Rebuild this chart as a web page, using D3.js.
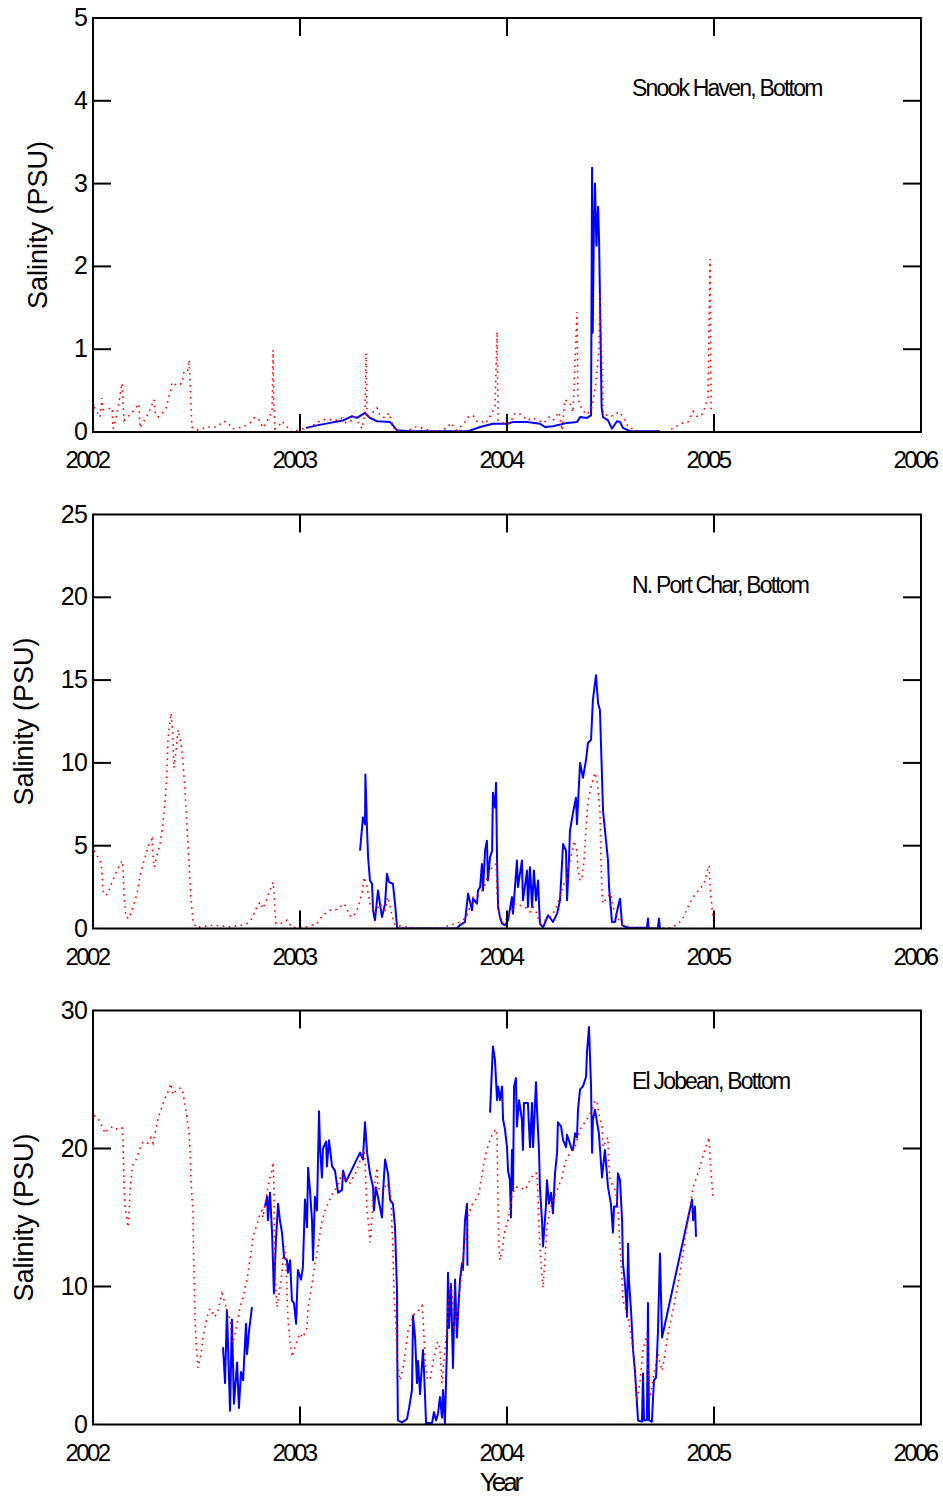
<!DOCTYPE html>
<html>
<head>
<meta charset="utf-8">
<script src="https://cdn.jsdelivr.net/npm/d3@7"></script>
<style>
  html, body { margin: 0; padding: 0; background: #fff; }
  svg { display: block; font-family: "Liberation Sans", Arial, sans-serif; }
</style>
</head>
<body>
<svg id="chart" width="943" height="1496"></svg>
<script>
// ---------------- DATA ----------------
const yearTicks = [2002, 2003, 2004, 2005, 2006];
const panelTitles = ["Snook Haven, Bottom", "N. Port Char, Bottom", "El Jobean, Bottom"];
const snookTicks = [0, 1, 2, 3, 4, 5];
const charTicks = [0, 5, 10, 15, 20, 25];
const jobeanTicks = [0, 10, 20, 30];

// observed (blue solid) and model (red dotted); [decimal year, salinity PSU]; null = gap
const snookObserved = [[2003.029,0.05],[2003.082,0.08],[2003.145,0.11],[2003.208,0.14],[2003.251,0.19],[2003.275,0.17],[2003.314,0.23],[2003.338,0.17],[2003.372,0.13],[2003.435,0.12],[2003.449,0.08],[2003.469,0.02],[2003.531,0.01],[2003.812,0.01],[2003.870,0.06],[2003.932,0.10],[2004.000,0.10],[2004.029,0.12],[2004.097,0.12],[2004.159,0.10],[2004.184,0.06],[2004.222,0.07],[2004.290,0.11],[2004.338,0.12],[2004.353,0.18],[2004.386,0.17],[2004.406,0.20],[2004.411,3.19],[2004.414,1.2],[2004.420,2.5],[2004.425,3.0],[2004.432,2.25],[2004.440,2.72],[2004.445,2.3],[2004.457,0.30],[2004.464,0.18],[2004.488,0.14],[2004.507,0.04],[2004.531,0.13],[2004.546,0.12],[2004.560,0.05],[2004.594,0.01],[2004.739,0.01]];

const snookModel = [[2002.005,0.30],[2002.034,0.18],[2002.043,0.41],[2002.048,0.27],[2002.072,0.28],[2002.092,0.29],[2002.097,0.04],[2002.116,0.22],[2002.140,0.59],[2002.150,0.14],[2002.174,0.20],[2002.193,0.25],[2002.222,0.34],[2002.227,0.05],[2002.242,0.12],[2002.256,0.17],[2002.280,0.30],[2002.295,0.39],[2002.300,0.24],[2002.314,0.18],[2002.333,0.22],[2002.353,0.29],[2002.372,0.48],[2002.382,0.60],[2002.406,0.56],[2002.430,0.59],[2002.440,0.74],[2002.459,0.75],[2002.464,0.87],[2002.469,0.59],[2002.473,0.35],[2002.478,0.06],[2002.502,0.02],[2002.551,0.06],[2002.599,0.06],[2002.628,0.13],[2002.647,0.12],[2002.676,0.04],[2002.725,0.06],[2002.758,0.11],[2002.778,0.17],[2002.797,0.17],[2002.821,0.05],[2002.841,0.13],[2002.855,0.20],[2002.865,0.27],[2002.870,0.99],[2002.874,0.27],[2002.879,0.04],[2002.899,0.08],[2002.913,0.13],[2002.942,0.05],[2002.961,0.0],[2002.990,0.02],[2003.039,0.05],[2003.063,0.08],[2003.106,0.15],[2003.135,0.15],[2003.155,0.15],[2003.179,0.14],[2003.203,0.17],[2003.222,0.11],[2003.251,0.14],[2003.266,0.18],[2003.300,0.04],[2003.314,0.24],[2003.319,0.95],[2003.324,0.17],[2003.353,0.24],[2003.372,0.29],[2003.386,0.20],[2003.411,0.17],[2003.430,0.23],[2003.440,0.14],[2003.459,0.02],[2003.507,0.0],[2003.556,0.06],[2003.575,0.06],[2003.599,0.04],[2003.638,0.01],[2003.667,0.01],[2003.710,0.05],[2003.729,0.11],[2003.758,0.02],[2003.797,0.12],[2003.812,0.18],[2003.836,0.20],[2003.855,0.13],[2003.879,0.13],[2003.889,0.10],[2003.908,0.14],[2003.928,0.24],[2003.942,0.30],[2003.952,1.21],[2003.957,0.14],[2003.976,0.11],[2004.014,0.10],[2004.039,0.23],[2004.072,0.21],[2004.097,0.14],[2004.126,0.17],[2004.150,0.14],[2004.179,0.11],[2004.203,0.18],[2004.222,0.14],[2004.251,0.24],[2004.266,0.02],[2004.280,0.39],[2004.304,0.35],[2004.319,0.24],[2004.338,1.45],[2004.343,0.40],[2004.362,0.27],[2004.386,0.21],[2004.411,0.30],[2004.430,0.60],[2004.444,1.0],[2004.449,1.68],[2004.459,0.8],[2004.464,0.23],[2004.498,0.18],[2004.522,0.22],[2004.546,0.24],[2004.570,0.14],[2004.585,0.06],[2004.643,0.0],[2004.676,0.0],[2004.778,0.0],[2004.802,0.05],[2004.826,0.08],[2004.850,0.11],[2004.874,0.12],[2004.899,0.25],[2004.918,0.19],[2004.937,0.19],[2004.957,0.30],[2004.971,0.42],[2004.981,2.09],[2004.986,0.23]];

const charObserved = [[2003.290,4.7],[2003.304,6.7],[2003.314,6.3],[2003.316,9.3],[2003.324,5.9],[2003.329,4.3],[2003.338,2.9],[2003.348,2.7],[2003.353,1.1],[2003.362,0.5],[2003.377,2.3],[2003.386,1.5],[2003.396,0.7],[2003.411,1.5],[2003.420,3.3],[2003.430,2.8],[2003.449,2.7],[2003.459,1.5],[2003.469,0.06],[2003.473,0.0],[2003.758,0.0],[2003.773,0.2],[2003.797,0.4],[2003.812,2.1],[2003.831,1.1],[2003.836,1.8],[2003.855,1.5],[2003.860,2.3],[2003.870,2.5],[2003.879,3.9],[2003.884,2.3],[2003.894,4.7],[2003.903,5.3],[2003.908,2.9],[2003.918,4.3],[2003.928,4.7],[2003.932,8.2],[2003.942,7.3],[2003.947,8.8],[2003.952,4.1],[2003.957,1.3],[2003.966,0.7],[2003.976,0.3],[2003.990,0.2],[2004.005,0.5],[2004.024,1.9],[2004.029,0.9],[2004.048,4.1],[2004.053,2.5],[2004.072,4.1],[2004.077,1.7],[2004.097,3.5],[2004.101,1.3],[2004.111,3.7],[2004.121,1.3],[2004.130,3.5],[2004.140,1.7],[2004.150,2.9],[2004.159,0.3],[2004.174,0.06],[2004.198,0.8],[2004.222,0.4],[2004.242,0.9],[2004.256,1.7],[2004.271,5.1],[2004.285,4.7],[2004.290,1.7],[2004.300,4.3],[2004.304,5.9],[2004.319,7.0],[2004.333,7.9],[2004.338,6.3],[2004.353,10.0],[2004.367,9.1],[2004.382,10.2],[2004.391,11.2],[2004.406,11.4],[2004.415,13.8],[2004.430,15.3],[2004.440,13.6],[2004.449,13.2],[2004.464,7.1],[2004.488,4.1],[2004.493,2.5],[2004.507,0.4],[2004.522,0.4],[2004.536,1.3],[2004.546,1.8],[2004.556,0.2],[2004.580,0.05],[2004.676,0.05],[2004.681,0.6],[2004.684,0.0],[2004.729,0.0],[2004.734,0.6],[2004.739,0.0]];

const charModel = [[2002.005,4.7],[2002.034,4.1],[2002.043,3.5],[2002.048,2.3],[2002.058,2.0],[2002.072,2.1],[2002.092,2.8],[2002.116,3.5],[2002.140,4.1],[2002.145,3.7],[2002.150,1.9],[2002.159,0.7],[2002.174,0.6],[2002.193,1.3],[2002.213,2.1],[2002.227,3.2],[2002.242,3.9],[2002.256,4.5],[2002.271,5.1],[2002.285,5.4],[2002.290,4.4],[2002.295,3.7],[2002.309,4.4],[2002.324,5.1],[2002.338,6.3],[2002.348,7.6],[2002.357,9.4],[2002.362,11.4],[2002.377,13.0],[2002.386,11.6],[2002.391,9.7],[2002.401,10.7],[2002.411,12.0],[2002.425,11.2],[2002.435,10.0],[2002.444,8.4],[2002.454,6.1],[2002.464,3.9],[2002.473,1.9],[2002.483,0.5],[2002.498,0.06],[2002.580,0.2],[2002.662,0.1],[2002.720,0.2],[2002.744,0.3],[2002.768,0.6],[2002.778,0.9],[2002.792,1.3],[2002.807,1.6],[2002.821,1.2],[2002.841,1.8],[2002.850,2.2],[2002.865,2.6],[2002.870,2.8],[2002.874,2.3],[2002.879,1.0],[2002.884,0.3],[2002.908,0.3],[2002.937,0.5],[2002.961,0.06],[2003.024,0.06],[2003.058,0.2],[2003.082,0.3],[2003.097,0.6],[2003.121,0.9],[2003.145,1.1],[2003.169,1.1],[2003.193,1.3],[2003.213,1.5],[2003.227,1.2],[2003.237,0.8],[2003.256,0.7],[2003.275,1.1],[2003.285,1.5],[2003.300,2.2],[2003.309,3.1],[2003.314,2.9],[2003.324,2.5],[2003.338,1.5],[2003.362,0.9],[2003.386,1.5],[2003.411,1.1],[2003.425,1.9],[2003.444,0.8],[2003.459,0.2],[2003.531,0.05],[2003.676,0.0],[2003.725,0.2],[2003.758,0.3],[2003.787,0.5],[2003.807,0.8],[2003.821,1.3],[2003.836,1.9],[2003.860,2.0],[2003.879,2.3],[2003.894,2.7],[2003.908,3.2],[2003.928,3.7],[2003.947,3.9],[2003.952,2.1],[2003.957,1.3],[2003.966,0.7],[2003.981,0.3],[2004.000,0.6],[2004.014,1.0],[2004.039,1.5],[2004.063,1.4],[2004.087,1.3],[2004.111,1.0],[2004.126,1.3],[2004.145,0.9],[2004.159,0.3],[2004.184,0.5],[2004.208,0.7],[2004.232,1.1],[2004.256,1.9],[2004.271,2.6],[2004.290,3.1],[2004.300,3.9],[2004.314,4.6],[2004.324,5.3],[2004.338,4.7],[2004.343,3.5],[2004.353,2.9],[2004.362,3.0],[2004.372,4.1],[2004.382,6.1],[2004.391,7.7],[2004.411,8.8],[2004.425,9.4],[2004.435,9.0],[2004.449,7.1],[2004.454,4.1],[2004.459,2.1],[2004.464,1.5],[2004.483,1.9],[2004.502,2.1],[2004.512,1.3],[2004.531,0.7],[2004.560,0.2],[2004.609,0.05],[2004.725,0.0],[2004.797,0.05],[2004.845,0.5],[2004.870,1.2],[2004.899,1.9],[2004.932,2.4],[2004.952,2.7],[2004.966,3.4],[2004.976,3.8],[2004.981,2.5],[2004.990,1.3],[2004.995,0.5]];

const jobeanObserved = [[2002.628,5.6],[2002.638,3.0],[2002.647,8.3],[2002.662,1.0],[2002.671,7.6],[2002.681,1.5],[2002.696,4.5],[2002.705,1.2],[2002.715,3.8],[2002.725,3.2],[2002.739,7.3],[2002.744,5.1],[2002.754,6.8],[2002.768,8.5],null,[2002.831,15.8],[2002.841,16.5],[2002.845,14.8],[2002.855,16.8],[2002.865,13.9],[2002.874,9.5],[2002.884,13.4],[2002.894,16.0],[2002.903,14.8],[2002.913,13.9],[2002.923,12.1],[2002.937,11.9],[2002.942,11.0],[2002.952,11.9],[2002.961,9.0],[2002.971,8.8],[2002.981,7.3],[2002.986,9.5],[2002.990,11.2],[2003.005,10.5],[2003.014,11.4],[2003.024,16.3],[2003.034,14.3],[2003.039,18.6],[2003.048,17.0],[2003.058,14.8],[2003.063,11.9],[2003.072,16.5],[2003.082,15.5],[2003.092,22.7],[2003.097,20.0],[2003.106,17.9],[2003.111,20.0],[2003.126,20.5],[2003.130,18.7],[2003.140,20.6],[2003.155,18.7],[2003.169,18.4],[2003.184,16.8],[2003.203,17.0],[2003.208,18.4],[2003.222,17.6],[2003.290,19.7],[2003.304,19.2],[2003.314,21.9],[2003.324,19.7],[2003.338,18.2],[2003.353,17.2],[2003.357,15.5],[2003.367,17.2],[2003.396,15.0],[2003.401,16.8],[2003.411,19.2],[2003.425,18.2],[2003.435,16.3],[2003.449,16.0],[2003.459,14.3],[2003.469,9.5],[2003.470,4.6],[2003.473,0.3],[2003.493,0.15],[2003.517,0.4],[2003.527,1.2],[2003.541,2.5],[2003.546,7.9],[2003.556,6.3],[2003.565,3.0],[2003.570,4.6],[2003.580,2.2],[2003.594,5.4],[2003.599,3.9],[2003.609,0.1],[2003.638,0.1],[2003.647,0.9],[2003.657,0.3],[2003.667,0.8],[2003.676,2.0],[2003.686,0.5],[2003.691,2.5],[2003.700,0.1],[2003.710,5.6],[2003.715,11.0],[2003.720,7.0],[2003.729,10.2],[2003.734,7.3],[2003.739,4.1],[2003.749,10.5],[2003.758,6.3],[2003.763,7.8],[2003.773,10.5],[2003.783,11.7],[2003.787,11.2],[2003.797,14.8],[2003.807,16.0],[2003.809,11.5],null,[2003.918,22.6],[2003.932,27.4],[2003.942,26.4],[2003.952,23.5],[2003.957,24.5],[2003.966,23.5],[2003.976,24.5],[2003.981,22.1],[2003.990,21.4],[2004.000,20.1],[2004.005,18.4],[2004.014,17.7],[2004.019,15.0],[2004.024,19.9],[2004.029,17.0],[2004.034,24.5],[2004.043,25.1],[2004.048,21.6],[2004.058,23.5],[2004.072,22.1],[2004.077,19.9],[2004.082,23.3],[2004.101,23.3],[2004.111,20.1],[2004.121,23.3],[2004.126,20.1],[2004.140,24.8],[2004.145,22.8],[2004.155,19.7],[2004.159,17.2],[2004.169,14.8],[2004.174,12.9],[2004.188,15.8],[2004.193,17.7],[2004.203,16.0],[2004.213,16.8],[2004.222,15.3],[2004.232,18.2],[2004.242,19.7],[2004.246,21.9],[2004.261,21.6],[2004.271,20.6],[2004.285,20.1],[2004.290,21.0],[2004.314,19.9],[2004.319,19.9],[2004.329,21.1],[2004.338,20.8],[2004.343,22.8],[2004.353,24.3],[2004.367,24.5],[2004.382,25.2],[2004.386,26.9],[2004.396,28.8],[2004.406,24.5],[2004.411,19.7],[2004.415,22.1],[2004.425,22.8],[2004.444,21.1],[2004.459,17.9],[2004.473,19.9],[2004.488,17.2],[2004.502,16.0],[2004.512,13.9],[2004.517,15.8],[2004.531,15.8],[2004.536,18.2],[2004.546,17.7],[2004.556,14.8],[2004.560,11.7],[2004.570,10.2],[2004.580,7.8],[2004.585,13.1],[2004.589,10.5],[2004.599,8.3],[2004.609,5.4],[2004.618,3.9],[2004.628,1.5],[2004.633,0.3],[2004.652,0.2],[2004.657,3.7],[2004.662,0.3],[2004.676,0.3],[2004.681,8.8],[2004.686,0.3],[2004.700,0.2],[2004.710,3.2],[2004.720,3.4],[2004.729,6.6],[2004.739,12.4],[2004.749,6.3],[2004.894,16.3],[2004.899,14.8],[2004.908,15.8],[2004.913,13.6]];

const jobeanModel = [[2002.005,22.4],[2002.024,22.2],[2002.048,21.5],[2002.058,21.1],[2002.072,21.4],[2002.097,21.6],[2002.116,21.4],[2002.140,21.5],[2002.145,20.6],[2002.147,19.2],[2002.150,17.2],[2002.155,15.8],[2002.164,14.8],[2002.169,14.3],[2002.174,15.3],[2002.179,17.0],[2002.188,18.4],[2002.193,18.8],[2002.208,19.2],[2002.217,19.6],[2002.227,20.0],[2002.242,20.5],[2002.266,20.4],[2002.280,20.8],[2002.290,20.4],[2002.295,20.8],[2002.304,21.3],[2002.314,22.2],[2002.333,23.0],[2002.343,23.5],[2002.357,23.9],[2002.377,24.7],[2002.386,23.9],[2002.406,24.3],[2002.425,24.4],[2002.435,24.0],[2002.444,23.2],[2002.454,22.2],[2002.459,21.6],[2002.464,21.2],[2002.469,19.7],[2002.473,17.9],[2002.478,16.5],[2002.483,15.5],[2002.485,13.1],[2002.488,10.7],[2002.493,7.6],[2002.498,5.9],[2002.507,4.1],[2002.522,5.1],[2002.531,6.3],[2002.551,7.8],[2002.565,8.4],[2002.589,7.8],[2002.604,8.3],[2002.623,9.5],[2002.638,8.8],[2002.647,8.3],[2002.662,7.6],[2002.671,6.3],[2002.676,5.9],[2002.686,6.6],[2002.696,7.3],[2002.710,8.5],[2002.725,9.2],[2002.734,9.9],[2002.744,10.5],[2002.749,11.0],[2002.758,11.9],[2002.768,12.9],[2002.773,13.6],[2002.783,14.1],[2002.797,14.7],[2002.807,15.3],[2002.816,15.5],[2002.821,15.0],[2002.831,16.0],[2002.841,16.8],[2002.845,17.2],[2002.855,17.9],[2002.865,18.4],[2002.870,19.0],[2002.874,17.2],[2002.876,13.1],[2002.879,11.4],[2002.884,9.5],[2002.889,8.5],[2002.899,9.5],[2002.913,11.0],[2002.918,12.1],[2002.928,12.9],[2002.937,9.7],[2002.942,7.6],[2002.952,5.9],[2002.961,4.9],[2002.971,5.4],[2002.986,6.1],[2003.000,6.6],[2003.014,6.3],[2003.034,7.0],[2003.039,8.5],[2003.048,9.2],[2003.063,10.7],[2003.072,11.7],[2003.082,12.4],[2003.097,13.9],[2003.106,14.7],[2003.121,15.5],[2003.135,16.0],[2003.159,16.8],[2003.179,17.2],[2003.203,18.2],[2003.217,17.7],[2003.242,17.5],[2003.271,18.3],[2003.295,19.3],[2003.309,20.0],[2003.314,19.2],[2003.319,17.2],[2003.324,15.5],[2003.333,14.3],[2003.338,13.2],[2003.348,15.0],[2003.353,16.3],[2003.362,17.6],[2003.372,18.6],[2003.377,17.2],[2003.396,16.8],[2003.406,17.1],[2003.420,17.5],[2003.430,17.2],[2003.440,16.3],[2003.444,14.3],[2003.449,12.9],[2003.451,11.2],[2003.454,9.5],[2003.464,7.0],[2003.469,4.6],[2003.483,3.2],[2003.498,4.1],[2003.507,5.1],[2003.517,6.1],[2003.522,6.8],[2003.541,7.6],[2003.556,8.1],[2003.575,8.3],[2003.589,8.6],[2003.594,7.8],[2003.599,6.3],[2003.604,4.6],[2003.614,3.4],[2003.628,3.2],[2003.638,4.1],[2003.643,4.6],[2003.652,5.1],[2003.662,5.9],[2003.667,6.0],[2003.676,5.4],[2003.686,3.0],[2003.691,3.9],[2003.700,5.4],[2003.710,7.0],[2003.715,8.5],[2003.729,10.2],[2003.739,8.8],[2003.744,6.8],[2003.754,7.6],[2003.763,9.0],[2003.773,9.9],[2003.783,11.2],[2003.787,12.1],[2003.797,13.4],[2003.807,14.1],[2003.812,15.3],[2003.821,15.5],[2003.836,16.1],[2003.855,16.4],[2003.865,16.8],[2003.879,18.1],[2003.889,19.0],[2003.903,19.9],[2003.918,20.6],[2003.932,21.1],[2003.947,21.4],[2003.952,20.8],[2003.954,18.7],[2003.957,15.3],[2003.961,12.9],[2003.966,11.9],[2003.976,12.6],[2003.990,14.1],[2004.005,14.8],[2004.024,16.5],[2004.039,17.2],[2004.063,17.2],[2004.087,17.0],[2004.111,17.7],[2004.130,18.2],[2004.145,18.2],[2004.150,16.5],[2004.155,14.1],[2004.164,11.7],[2004.174,9.9],[2004.184,12.1],[2004.193,14.3],[2004.203,15.3],[2004.222,16.3],[2004.242,17.0],[2004.266,17.9],[2004.280,19.0],[2004.304,19.7],[2004.329,20.1],[2004.353,21.4],[2004.386,22.1],[2004.411,22.8],[2004.425,23.5],[2004.435,23.3],[2004.449,22.1],[2004.459,21.6],[2004.464,20.1],[2004.478,20.6],[2004.488,20.8],[2004.490,19.2],[2004.498,17.7],[2004.522,17.0],[2004.531,16.3],[2004.536,15.5],[2004.546,12.9],[2004.556,10.5],[2004.560,9.0],[2004.580,8.1],[2004.594,7.0],[2004.609,5.4],[2004.618,3.9],[2004.628,1.7],[2004.643,3.2],[2004.657,5.4],[2004.676,6.6],[2004.681,4.1],[2004.691,2.0],[2004.705,3.2],[2004.715,4.1],[2004.729,5.1],[2004.749,3.9],[2004.763,5.1],[2004.778,6.6],[2004.802,8.3],[2004.836,11.0],[2004.860,13.4],[2004.884,15.8],[2004.899,17.2],[2004.923,18.2],[2004.942,19.2],[2004.966,20.4],[2004.976,20.8],[2004.981,19.2],[2004.990,17.5],[2004.995,16.3]];

// ---------------- LAYOUT ----------------
const panels = [
  { title: panelTitles[0], ticks: snookTicks, obs: snookObserved, model: snookModel, top: 18 },
  { title: panelTitles[1], ticks: charTicks, obs: charObserved, model: charModel, top: 514.5 },
  { title: panelTitles[2], ticks: jobeanTicks, obs: jobeanObserved, model: jobeanModel, top: 1010.5 }
];
const left = 93, right = 921, ph = 414, tickLen = 18;
const svg = d3.select("#chart");

const x = d3.scaleLinear().domain([yearTicks[0], yearTicks[yearTicks.length - 1]]).range([left, right]);

panels.forEach((p, i) => {
  const top = p.top, bottom = top + ph;
  const y = d3.scaleLinear().domain([0, d3.max(p.ticks)]).range([bottom, top]);
  const g = svg.append("g");

  const clipId = "clip" + i;
  svg.append("clipPath").attr("id", clipId)
    .append("rect").attr("x", left).attr("y", top).attr("width", right - left).attr("height", ph);

  const line = d3.line().defined(d => d !== null).x(d => x(d[0])).y(d => y(d[1]));

  const plot = g.append("g").attr("clip-path", `url(#${clipId})`);
  plot.append("path").datum(p.obs).attr("d", line)
    .attr("fill", "none").attr("stroke", "#0000ff").attr("stroke-width", 2)
    .attr("stroke-linejoin", "round");
  plot.append("path").datum(p.model).attr("d", line)
    .attr("fill", "none").attr("stroke", "#ff0000").attr("stroke-width", 1.6)
    .attr("stroke-dasharray", "1.6,4.4");

  // y ticks (left & right, inward)
  const yTicksIn = p.ticks.filter(t => t > 0 && t < d3.max(p.ticks));
  g.selectAll(".ytl").data(yTicksIn).join("line")
    .attr("x1", left).attr("x2", left + tickLen).attr("y1", d => y(d)).attr("y2", d => y(d))
    .attr("stroke", "#000").attr("stroke-width", 2);
  g.selectAll(".ytr").data(yTicksIn).join("line")
    .attr("x1", right).attr("x2", right - tickLen).attr("y1", d => y(d)).attr("y2", d => y(d))
    .attr("stroke", "#000").attr("stroke-width", 2);
  // x ticks (top & bottom, inward)
  const xTicksIn = yearTicks.slice(1, -1);
  g.selectAll(".xtb").data(xTicksIn).join("line")
    .attr("x1", d => x(d)).attr("x2", d => x(d)).attr("y1", bottom).attr("y2", bottom - tickLen)
    .attr("stroke", "#000").attr("stroke-width", 2);
  g.selectAll(".xtt").data(xTicksIn).join("line")
    .attr("x1", d => x(d)).attr("x2", d => x(d)).attr("y1", top).attr("y2", top + tickLen)
    .attr("stroke", "#000").attr("stroke-width", 2);

  // frame
  g.append("rect").attr("x", left).attr("y", top).attr("width", right - left).attr("height", ph)
    .attr("fill", "none").attr("stroke", "#000").attr("stroke-width", 2);

  // y tick labels
  g.selectAll(".ylab").data(p.ticks).join("text")
    .attr("x", left - 6).attr("y", d => y(d) + 8)
    .attr("text-anchor", "end").attr("font-size", 25).attr("fill", "#000")
    .attr("letter-spacing", -0.8)
    .text(d => d);

  // x tick labels
  g.selectAll(".xlab").data(yearTicks).join("text")
    .attr("x", d => x(d) - 6).attr("y", bottom + 36)
    .attr("text-anchor", "middle").attr("font-size", 24).attr("fill", "#000")
    .attr("letter-spacing", -2.6)
    .text(d => d);

  // y axis label
  const maxDigits = d3.max(p.ticks, t => String(t).length);
  const lx = 52 - 14 * maxDigits, ly = (top + bottom) / 2;
  g.append("text")
    .attr("transform", `translate(${lx},${ly}) rotate(-90)`)
    .attr("text-anchor", "middle").attr("dominant-baseline", "central")
    .attr("font-size", 27).attr("fill", "#000")
    .text("Salinity (PSU)");

  // panel annotation
  g.append("text").attr("x", 632).attr("y", top + 78)
    .attr("font-size", 23).attr("letter-spacing", -1.8).attr("fill", "#000")
    .text(p.title);
});

// x-axis title
svg.append("text").attr("x", 500).attr("y", 1491)
  .attr("text-anchor", "middle").attr("font-size", 26).attr("letter-spacing", -3)
  .attr("fill", "#000").text("Year");
</script>
</body>
</html>
